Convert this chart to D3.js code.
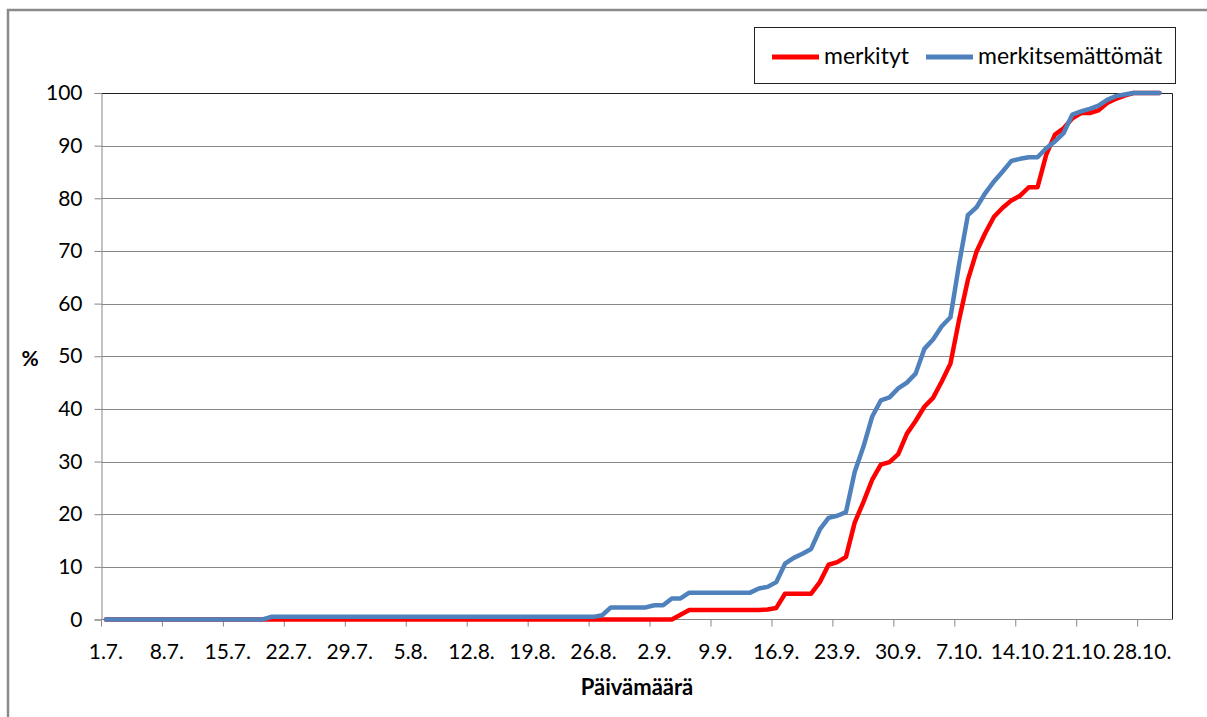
<!DOCTYPE html>
<html>
<head>
<meta charset="utf-8">
<script src="https://cdn.jsdelivr.net/npm/d3@7"></script>
<style>
  html, body { margin: 0; padding: 0; background: #fff; }
  svg { display: block; font-family: Lato, "Open Sans", sans-serif; }
</style>
</head>
<body>
<svg id="chart" width="1207" height="717"></svg>
<script>
// Cumulative share (%) per day, 1.7. – 30.10.
const merkityt = [
  0,0,0,0,0,0,0,0,0,0,
  0,0,0,0,0,0,0,0,0,0,
  0,0,0,0,0,0,0,0,0,0,
  0,0,0,0,0,0,0,0,0,0,
  0,0,0,0,0,0,0,0,0,0,
  0,0,0,0,0,0,0,0,0,0,
  0,0,0,0,0,0,
  0.9,1.8,1.8,1.8,1.8,1.8,1.8,1.8,1.8,1.8,1.9,2.2,
  4.9,4.9,4.9,4.9,7.1,10.4,10.9,11.9,18.4,22.3,26.5,29.4,29.9,31.4,
  35.3,37.7,40.4,42.1,45.2,48.6,57.0,64.5,69.9,73.4,76.5,78.2,79.6,80.5,
  82.1,82.1,88.3,92.1,93.3,95.2,96.2,96.2,96.7,98.1,98.9,99.5,
  100,100,100,100
];
const merkitsemattomat = [
  0,0,0,0,0,0,0,0,0,0,
  0,0,0,0,0,0,0,0,0,
  0.5,0.5,0.5,0.5,0.5,0.5,0.5,0.5,0.5,0.5,
  0.5,0.5,0.5,0.5,0.5,0.5,0.5,0.5,0.5,0.5,
  0.5,0.5,0.5,0.5,0.5,0.5,0.5,0.5,0.5,0.5,
  0.5,0.5,0.5,0.5,0.5,0.5,0.5,0.5,
  0.8,2.3,2.3,2.3,2.3,2.3,2.7,2.7,4.0,4.0,
  5.1,5.1,5.1,5.1,5.1,5.1,5.1,5.1,
  5.9,6.2,7.1,10.6,11.7,12.5,13.4,17.1,19.3,19.7,20.4,28.0,32.8,38.5,41.6,42.2,
  43.9,45.0,46.7,51.4,53.2,55.7,57.4,67.6,76.8,78.3,81.0,83.2,85.1,87.1,87.5,87.8,
  87.8,89.5,90.8,92.4,95.9,96.5,97.0,97.6,98.7,99.4,99.7,
  100,100,100,100
];
const seriesNames = ["merkityt", "merkitsemättömät"];
const seriesColors = ["#ff0000", "#4f81bd"];
const tickLabels = ["1.7.","8.7.","15.7.","22.7.","29.7.","5.8.","12.8.","19.8.","26.8.",
                    "2.9.","9.9.","16.9.","23.9.","30.9.","7.10.","14.10.","21.10.","28.10."];
const yTicks = [0,10,20,30,40,50,60,70,80,90,100];

// Day categories on the axis: 1.7. through 31.10.
const fmt = d3.timeFormat("%-d.%-m.");
const start = new Date(2009, 6, 1);
const categories = d3.range(123).map(i => fmt(d3.timeDay.offset(start, i)));

const svg = d3.select("#chart");
const plotL = 101.5, plotR = 1172.5, plotT = 93, plotB = 619.5;
const tickFont = 21;

const x = d3.scaleBand().domain(categories).range([plotL, plotR]).padding(0);
const y = d3.scaleLinear().domain([0, 100]).range([plotB, plotT]);
const cx = c => x(c) + x.bandwidth() / 2;

// outer chart frame
svg.append("path")
  .attr("d", `M8,717 L8,10 L1207,10`)
  .attr("fill", "none").attr("stroke", "#8a8a8a").attr("stroke-width", 2.5);

// horizontal gridlines
svg.append("g").selectAll("line").data(yTicks.filter(v => v > 0)).join("line")
  .attr("x1", plotL).attr("x2", plotR)
  .attr("y1", d => Math.round(y(d)) + 0.5).attr("y2", d => Math.round(y(d)) + 0.5)
  .attr("stroke", "#868686").attr("stroke-width", 1);

// plot area border (top / right)
svg.append("path")
  .attr("d", `M${plotL},${plotT + 0.5} L${plotR},${plotT + 0.5} L${plotR},${plotB}`)
  .attr("fill", "none").attr("stroke", "#222").attr("stroke-width", 1);

// y axis
const yAxis = d3.axisLeft(y).tickValues(yTicks).tickSize(7).tickPadding(12);
const gy = svg.append("g").attr("transform", `translate(${plotL},0)`).call(yAxis);
gy.select(".domain").attr("stroke", "#868686");
gy.selectAll(".tick line").attr("stroke", "#868686");
gy.selectAll(".tick text").attr("font-size", tickFont).attr("fill", "#000")
  .style("font-family", "Lato, 'Open Sans', sans-serif");

// x axis: ticks at category boundaries, labels centred on the day
const tickCats = tickLabels.map(t => categories.indexOf(t));
const gx = svg.append("g");
gx.append("line").attr("x1", plotL).attr("x2", plotR)
  .attr("y1", plotB).attr("y2", plotB).attr("stroke", "#868686");
gx.selectAll("line.tk").data(tickCats).join("line").attr("class", "tk")
  .attr("x1", i => x(categories[i])).attr("x2", i => x(categories[i]))
  .attr("y1", plotB).attr("y2", plotB + 7).attr("stroke", "#868686");
gx.selectAll("text").data(tickLabels).join("text")
  .attr("x", t => cx(t)).attr("y", 659)
  .attr("text-anchor", "middle").attr("font-size", tickFont).attr("fill", "#000")
  .text(t => t);

// axis titles
svg.append("text").attr("x", 637).attr("y", 695).attr("text-anchor", "middle")
  .attr("font-size", 22).attr("font-weight", "bold").text("Päivämäärä");
svg.append("text").attr("x", 30).attr("y", 366).attr("text-anchor", "middle")
  .attr("font-size", 21).attr("font-weight", "bold").text("%");

// series lines
const line = d3.line().x((d, i) => cx(categories[i])).y(d => y(d));
[merkityt, merkitsemattomat].forEach((s, k) => {
  svg.append("path").datum(s)
    .attr("d", line)
    .attr("fill", "none").attr("stroke", seriesColors[k])
    .attr("stroke-width", 4.5).attr("stroke-linejoin", "round").attr("stroke-linecap", "round");
});

// legend
const lg = svg.append("g");
lg.append("rect").attr("x", 754.5).attr("y", 27.5).attr("width", 421).attr("height", 56)
  .attr("fill", "#fff").attr("stroke", "#222");
const legendX = [772, 926];
seriesNames.forEach((n, k) => {
  lg.append("line").attr("x1", legendX[k]).attr("x2", legendX[k] + 47)
    .attr("y1", 57).attr("y2", 57).attr("stroke", seriesColors[k]).attr("stroke-width", 5);
  lg.append("text").attr("x", legendX[k] + 52).attr("y", 64)
    .attr("font-size", 23).attr("fill", "#000").text(n);
});
</script>
</body>
</html>
